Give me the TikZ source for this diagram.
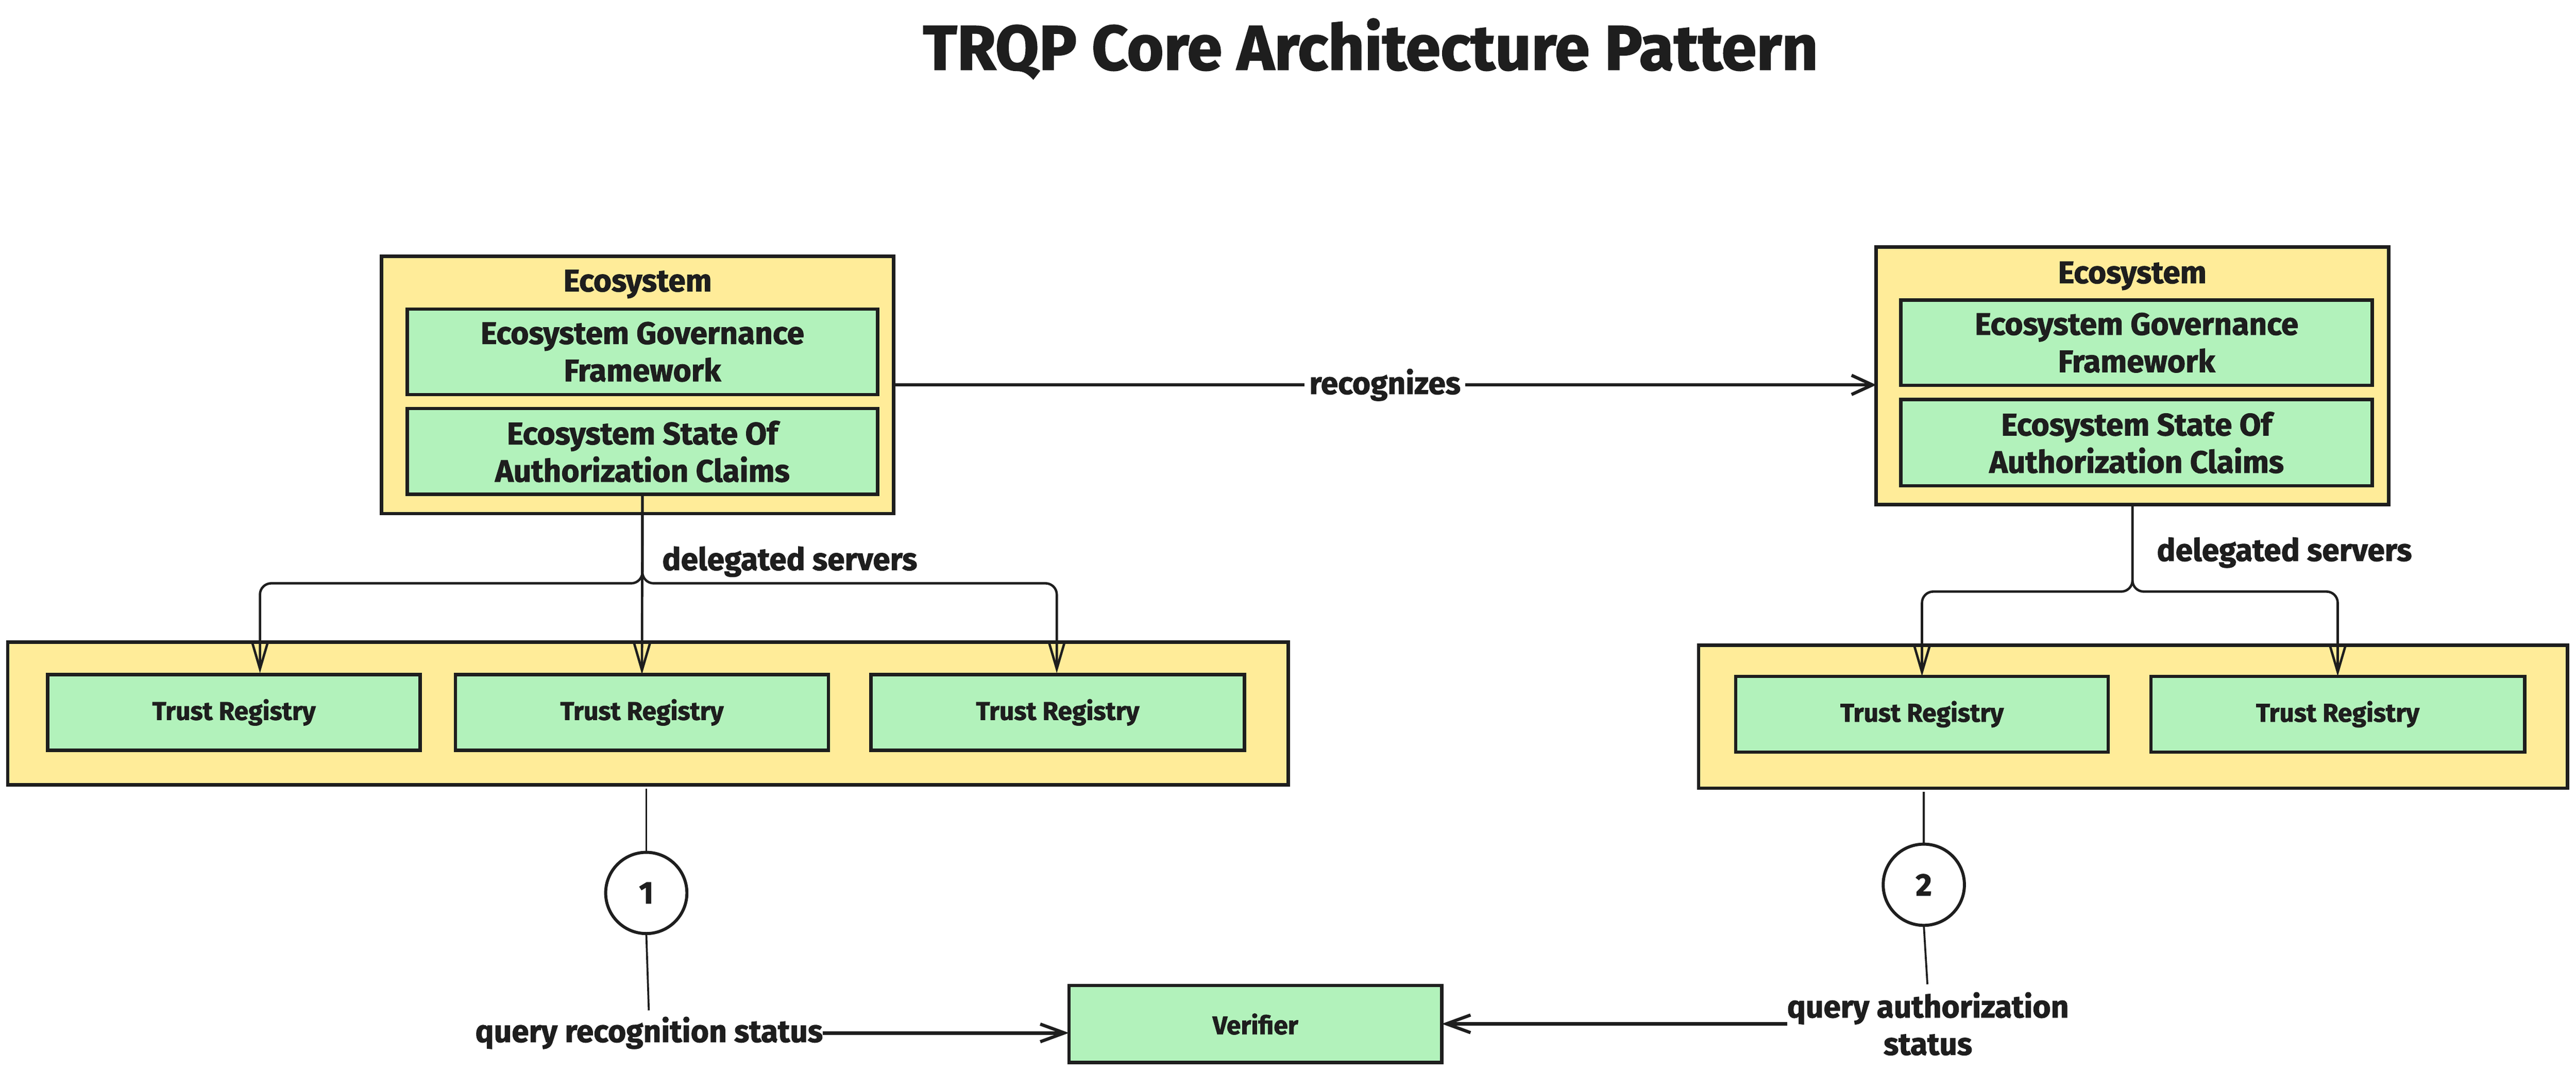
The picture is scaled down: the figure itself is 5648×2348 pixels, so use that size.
\documentclass[tikz,border=0pt]{standalone}
\usepackage{fontspec}
\setmainfont{Fira Sans}[BoldFeatures={FakeBold=1.6}]
\usetikzlibrary{arrows.meta}
\definecolor{ink}{HTML}{1E1E1E}
\definecolor{yel}{HTML}{FFEC99}
\definecolor{grn}{HTML}{B2F2BB}
\begin{document}
\begin{tikzpicture}[x=0.01cm,y=-0.01cm,
  every node/.style={inner sep=0pt, outer sep=0pt, text=ink},
  bigfont/.style={font=\fontsize{19.4}{23.3}\selectfont\bfseries},
  smallfont/.style={font=\fontsize{16}{19}\selectfont\bfseries},
  titlefont/.style={font=\fontsize{39.4}{48}\selectfont\bfseries},
  outerbox/.style={draw=ink, fill=yel, line width=2.1pt},
  greenbox/.style={draw=ink, fill=grn, line width=2.1pt, align=center},
  lbl/.style={bigfont},
  numcirc/.style={circle, draw=ink, fill=white, line width=1.9pt, minimum size=1.78cm, bigfont},
  recarr/.style={draw=ink, line width=2pt, -{Straight Barb[length=13pt,width=12pt,line width=2pt]}},
  darr/.style={draw=ink, line width=1.5pt, -{Straight Barb[length=17pt,width=10pt,line width=1.5pt]}},
  qarr/.style={draw=ink, line width=2.3pt, -{Straight Barb[length=15pt,width=11pt,line width=2pt]}},
  stem/.style={draw=ink, line width=1.2pt}
]
\fill[white] (0,0) rectangle (5648,2348);
\useasboundingbox (0,0) rectangle (5648,2348);

% title
\node[titlefont, anchor=base] (title) at (3005,153) {TRQP Core Architecture Pattern};

% left ecosystem
\node[outerbox, minimum width=11.22cm, minimum height=5.64cm] (eco1) at (1398,844) {};
\node[lbl, anchor=base] (eco1t) at (1398,639) {Ecosystem};
\node[greenbox, bigfont, minimum width=10.31cm, minimum height=1.87cm] (gf1) at (1408.5,771.5) {Ecosystem Governance\\Framework};
\node[greenbox, bigfont, minimum width=10.31cm, minimum height=1.88cm] (soa1) at (1408.5,990) {Ecosystem State Of\\Authorization Claims};

% right ecosystem
\node[outerbox, minimum width=11.23cm, minimum height=5.64cm] (eco2) at (4675.5,824) {};
\node[lbl, anchor=base] (eco2t) at (4675,621) {Ecosystem};
\node[greenbox, bigfont, minimum width=10.33cm, minimum height=1.87cm] (gf2) at (4684.5,751.5) {Ecosystem Governance\\Framework};
\node[greenbox, bigfont, minimum width=10.33cm, minimum height=1.89cm] (soa2) at (4684.5,970.5) {Ecosystem State Of\\Authorization Claims};

% left trust registries
\node[outerbox, minimum width=28.06cm, minimum height=3.13cm] (trc1) at (1421,1564.5) {};
\node[greenbox, smallfont, minimum width=8.16cm, minimum height=1.66cm] (tr11) at (513,1562) {Trust Registry};
\node[greenbox, smallfont, minimum width=8.17cm, minimum height=1.66cm] (tr12) at (1407.5,1562) {Trust Registry};
\node[greenbox, smallfont, minimum width=8.18cm, minimum height=1.66cm] (tr13) at (2319,1562) {Trust Registry};

% right trust registries
\node[outerbox, minimum width=19.04cm, minimum height=3.13cm] (trc2) at (4677,1571.5) {};
\node[greenbox, smallfont, minimum width=8.16cm, minimum height=1.66cm] (tr21) at (4214,1566) {Trust Registry};
\node[greenbox, smallfont, minimum width=8.19cm, minimum height=1.66cm] (tr22) at (5125.5,1566) {Trust Registry};

% verifier
\node[greenbox, smallfont, minimum width=8.17cm, minimum height=1.69cm] (ver) at (2752.5,2245.5) {Verifier};

% numbered circles
\node[numcirc] (c1) at (1417,1958) {1};
\node[numcirc] (c2) at (4218,1940) {2};

% query labels
\node[lbl, anchor=base] (q1) at (1423,2285) {query recognition status};
\node[lbl, align=center] (q2) at (4227,2245) {query authorization\\status};

% recognizes
\draw[recarr] (eco1.east) -- (eco2.west |- eco1.east)
  node[midway, fill=white, inner xsep=3pt, inner ysep=2pt, lbl] (rec) {recognizes};

% delegated servers (left)
\coordinate (e11) at (570,1476);
\coordinate (e13) at (2317,1476);
\draw[darr, rounded corners=7pt] (soa1.south) -- ++(0,195) -| (e11);
\draw[darr, rounded corners=7pt] (soa1.south) -- ++(0,195) -| (e13);
\draw[darr] (soa1.south) -- (tr12.north);
\node[lbl, anchor=base west] (ds1) at (1452,1250) {delegated servers};

% delegated servers (right)
\draw[darr, rounded corners=7pt] (eco2.south) -- ++(0,191) -| (tr21.north);
\draw[darr, rounded corners=7pt] (eco2.south) -- ++(0,191) -| (tr22.north);
\node[lbl, anchor=base west] (ds2) at (4729,1230) {delegated servers};

% stems to circles
\draw[stem, shorten <=2.3pt] (trc1.south -| c1) -- (c1.north);
\draw[stem, shorten >=4pt] (c1.south) -- (q1.north);
\draw[stem, shorten <=2.3pt] (trc2.south -| c2) -- (c2.north);
\draw[stem, shorten >=5pt] (c2.south) -- (q2.north);

% query arrows
\draw[qarr] (q1.east) -- (ver.west |- q1.east);
\draw[qarr] (q2.west) -- (ver.east |- q2.west);
\end{tikzpicture}
\end{document}
